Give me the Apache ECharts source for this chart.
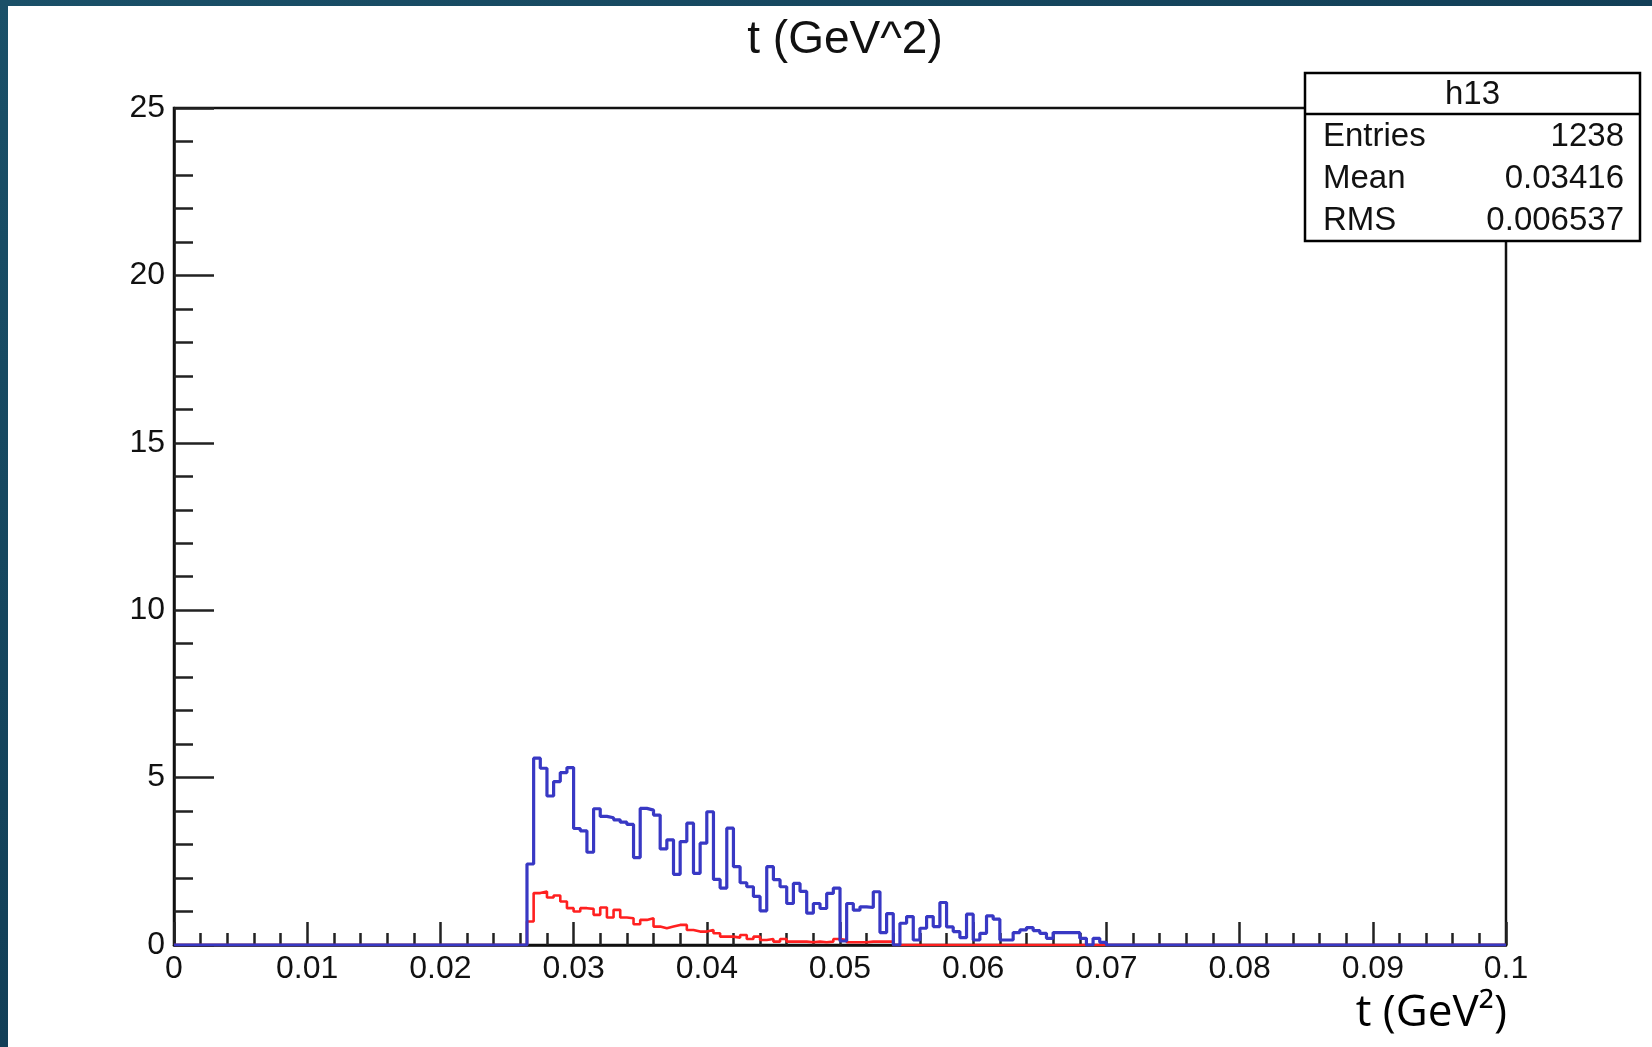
<!DOCTYPE html>
<html>
<head>
<meta charset="utf-8">
<script src="https://cdn.jsdelivr.net/npm/echarts@6/dist/echarts.min.js"></script>
<style>
html,body{margin:0;padding:0;background:#fff;}
#chart{width:1652px;height:1047px;}
</style>
</head>
<body>
<div id="chart"></div>
<script>
// ---- data ----
const titleText = 't (GeV^2)';
const xAxisTitle = 't (GeV\u00B2)';
const xMin = 0, xMax = 0.1, xStep = 0.01;
const yMin = 0, yMax = 25, yStep = 5;
const xTickLabels = ['0','0.01','0.02','0.03','0.04','0.05','0.06','0.07','0.08','0.09','0.1'];
const yTickLabels = ['0','5','10','15','20','25'];
const binStart = 0.0265;
const binWidth = 0.0005;
const blueCounts = [
  2.42, 5.58, 5.28, 4.45, 4.88, 5.15, 5.30, 3.48, 3.41, 2.77,
  4.07, 3.84, 3.80, 3.74, 3.67, 3.60, 2.61, 4.08, 4.03, 3.88,
  2.87, 3.14, 2.11, 3.09, 3.64, 2.14, 3.04, 3.98, 1.96, 1.70,
  3.49, 2.34, 1.86, 1.74, 1.45, 1.02, 2.34, 1.95, 1.74, 1.24,
  1.84, 1.60, 0.95, 1.24, 1.09, 1.54, 1.70, 0.12, 1.24, 1.04,
  1.14, 1.12, 1.59, 0.37, 0.94, 0.00, 0.65, 0.85, 0.15, 0.50,
  0.85, 0.55, 1.27, 0.54, 0.40, 0.22, 0.92, 0.15, 0.35, 0.87,
  0.77, 0.15, 0.15, 0.37, 0.45, 0.52, 0.43, 0.35, 0.20, 0.37,
  0.37, 0.37, 0.37, 0.20, 0.00, 0.20, 0.08
];
const redCounts = [
  0.70, 1.55, 1.60, 1.42, 1.48, 1.30, 1.10, 1.00, 1.10, 1.08,
  0.90, 1.12, 0.82, 1.05, 0.82, 0.80, 0.62, 0.75, 0.80, 0.55,
  0.50, 0.55, 0.60, 0.60, 0.45, 0.40, 0.40, 0.45, 0.35, 0.25,
  0.25, 0.22, 0.30, 0.18, 0.25, 0.15, 0.18, 0.10, 0.18, 0.10,
  0.10, 0.10, 0.08, 0.10, 0.08, 0.10, 0.18, 0.15, 0.08, 0.08,
  0.08, 0.10, 0.10, 0.10, 0.10
];
const statsTitle = 'h13';
const statsLabels = ['Entries', 'Mean', 'RMS'];
const statsValues = ['1238', '0.03416', '0.006537'];

// ---- build histogram step points from bin definition ----
function histPoints(counts) {
  const pts = [[xMin, 0]];
  counts.forEach((c, i) => pts.push([binStart + i * binWidth, c]));
  pts.push([binStart + counts.length * binWidth, 0]);
  pts.push([xMax, 0]);
  return pts;
}

const FONT = '"Liberation Sans", Arial, Helvetica, sans-serif';
const chart = echarts.init(document.getElementById('chart'), null, {renderer: 'canvas'});

const box = {x: 1305, y: 73, w: 335, h: 168, headerH: 41, rowH: 42};
const statsGraphics = [
  {type: 'rect', z: 100, shape: {x: box.x, y: box.y, width: box.w, height: box.h},
   style: {fill: '#fff', stroke: '#000', lineWidth: 2.5}},
  {type: 'line', z: 101, shape: {x1: box.x, y1: box.y + box.headerH, x2: box.x + box.w, y2: box.y + box.headerH},
   style: {stroke: '#000', lineWidth: 2.5}},
  {type: 'text', z: 101, x: box.x + box.w / 2, y: box.y + box.headerH / 2 + 1,
   style: {text: statsTitle, font: '33px ' + FONT, fill: '#111', textAlign: 'center', textVerticalAlign: 'middle'}}
];
statsLabels.forEach((lab, i) => {
  const cy = box.y + box.headerH + 23 + i * box.rowH;
  statsGraphics.push({type: 'text', z: 101, x: box.x + 18, y: cy,
    style: {text: lab, font: '33px ' + FONT, fill: '#111', textAlign: 'left', textVerticalAlign: 'middle'}});
  statsGraphics.push({type: 'text', z: 101, x: box.x + box.w - 16, y: cy,
    style: {text: statsValues[i], font: '33px ' + FONT, fill: '#111', textAlign: 'right', textVerticalAlign: 'middle'}});
});

const bandFill = new echarts.graphic.LinearGradient(0, 0, 1, 1, [
  {offset: 0, color: '#1a5068'}, {offset: 1, color: '#123f57'}
]);

const option = {
  backgroundColor: '#fff',
  animation: false,
  title: {
    text: titleText, left: 840, top: 12, textAlign: 'center',
    textStyle: {fontFamily: FONT, fontSize: 46, fontWeight: 'normal', color: '#111'}
  },
  grid: {
    left: 174, top: 108, right: 146, bottom: 102, show: true,
    borderColor: '#111', borderWidth: 2.5, backgroundColor: 'transparent'
  },
  xAxis: {
    type: 'value', min: xMin, max: xMax, interval: xStep,
    axisLine: {show: true, onZero: false, lineStyle: {color: '#111', width: 2.5}},
    axisTick: {show: true, inside: true, length: 23, lineStyle: {color: '#222', width: 2.5}},
    minorTick: {show: true, splitNumber: 5, length: 12, lineStyle: {color: '#222', width: 2.5}},
    splitLine: {show: false},
    axisLabel: {
      margin: 8, color: '#111', fontFamily: FONT, fontSize: 32,
      formatter: (v, i) => xTickLabels[i]
    }
  },
  yAxis: {
    type: 'value', min: yMin, max: yMax, interval: yStep,
    axisLine: {show: true, lineStyle: {color: '#111', width: 2.5}},
    axisTick: {show: true, inside: true, length: 40, lineStyle: {color: '#222', width: 2.5}},
    minorTick: {show: true, splitNumber: 5, length: 19, lineStyle: {color: '#222', width: 2.5}},
    splitLine: {show: false},
    axisLabel: {
      margin: 9, color: '#111', fontFamily: FONT, fontSize: 32,
      formatter: (v, i) => yTickLabels[i]
    }
  },
  series: [
    {
      type: 'line', name: 'red', step: 'end', data: histPoints(redCounts),
      showSymbol: false, symbol: 'none', z: 3,
      lineStyle: {color: '#ff2020', width: 2.6}
    },
    {
      type: 'line', name: 'blue', step: 'end', data: histPoints(blueCounts),
      showSymbol: false, symbol: 'none', z: 4,
      lineStyle: {color: '#3838c4', width: 3.2}
    }
  ],
  graphic: [
    {type: 'rect', z: 200, shape: {x: 0, y: 0, width: 1652, height: 6}, style: {fill: bandFill}},
    {type: 'rect', z: 200, shape: {x: 0, y: 0, width: 8, height: 1047}, style: {fill: bandFill}},
    {type: 'text', z: 50, x: 1507, y: 1013,
     style: {text: xAxisTitle, font: '44px "Open Sans", sans-serif', fill: '#000', textAlign: 'right', textVerticalAlign: 'middle'}}
  ].concat(statsGraphics)
};
chart.setOption(option);
</script>
</body>
</html>
